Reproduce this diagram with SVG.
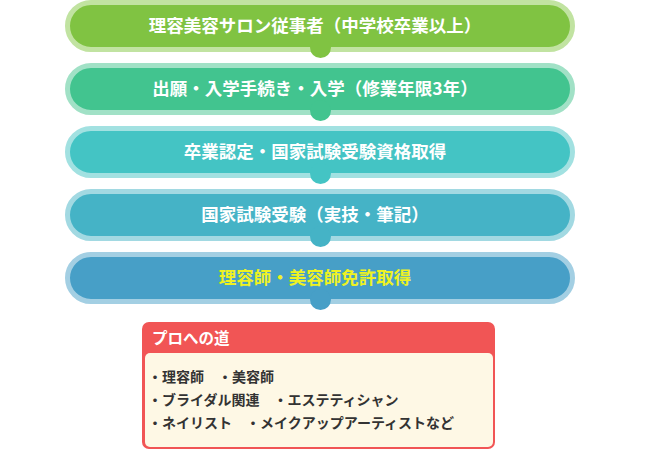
<svg xmlns="http://www.w3.org/2000/svg" width="650" height="450" viewBox="0 0 650 450">
<style>
.step{stroke-width:5}
.lbl{font-family:"Noto Sans CJK JP","Noto Sans CJK SC",sans-serif;font-weight:bold;font-size:17.5px;text-anchor:middle;fill:#ffffff}
.hd{font-family:"Noto Sans CJK JP","Noto Sans CJK SC",sans-serif;font-weight:bold;font-size:15.5px;fill:#ffffff}
.li{font-family:"Noto Sans CJK JP","Noto Sans CJK SC",sans-serif;font-weight:bold;font-size:14px;fill:#333333}
</style>
<rect width="650" height="450" fill="#ffffff"/>
<g id="step1">
<rect class="step" x="67.5" y="2.5" width="505" height="47" rx="23.5" fill="#80C342" stroke="#C1E3A1"/>
<text class="lbl" x="315" y="32">理容美容サロン従事者（中学校卒業以上）</text>
</g>
<g id="step2">
<rect class="step" x="67.5" y="65.5" width="505" height="47" rx="23.5" fill="#42C48F" stroke="#A1E1C6"/>
<text class="lbl" x="315" y="95">出願・入学手続き・入学（修業年限3年）</text>
</g>
<g id="step3">
<rect class="step" x="67.5" y="128.5" width="505" height="47" rx="23.5" fill="#44C4C4" stroke="#A2E1E1"/>
<text class="lbl" x="315" y="158">卒業認定・国家試験受験資格取得</text>
</g>
<g id="step4">
<rect class="step" x="67.5" y="191.5" width="505" height="47" rx="23.5" fill="#45B3C6" stroke="#A2D9E2"/>
<text class="lbl" x="315" y="221">国家試験受験（実技・筆記）</text>
</g>
<g id="step5">
<rect class="step" x="67.5" y="254.5" width="505" height="47" rx="23.5" fill="#479FC7" stroke="#A3CFE3"/>
<text class="lbl" x="315" y="284" style="fill:#EEF222">理容師・美容師免許取得</text>
</g>
<g id="connectors">
<circle cx="320.5" cy="47.5" r="10.5" fill="#80C342"/>
<circle cx="320.5" cy="110.5" r="10.5" fill="#42C48F"/>
<circle cx="320.5" cy="173.5" r="10.5" fill="#44C4C4"/>
<circle cx="320.5" cy="236.5" r="10.5" fill="#45B3C6"/>
<circle cx="320.5" cy="299.5" r="10.5" fill="#479FC7"/>
</g>
<g id="pro">
<rect x="142" y="322" width="353" height="127" rx="7" fill="#F15555"/>
<rect x="145" y="353" width="348" height="94" rx="5" fill="#FEF8E5"/>
<text class="hd" x="152" y="344">プロへの道</text>
<text class="li" x="148" y="382">・理容師　・美容師</text>
<text class="li" x="148" y="405">・ブライダル関連　・エステティシャン</text>
<text class="li" x="148" y="428">・ネイリスト　・メイクアップアーティストなど</text>
</g>
</svg>
